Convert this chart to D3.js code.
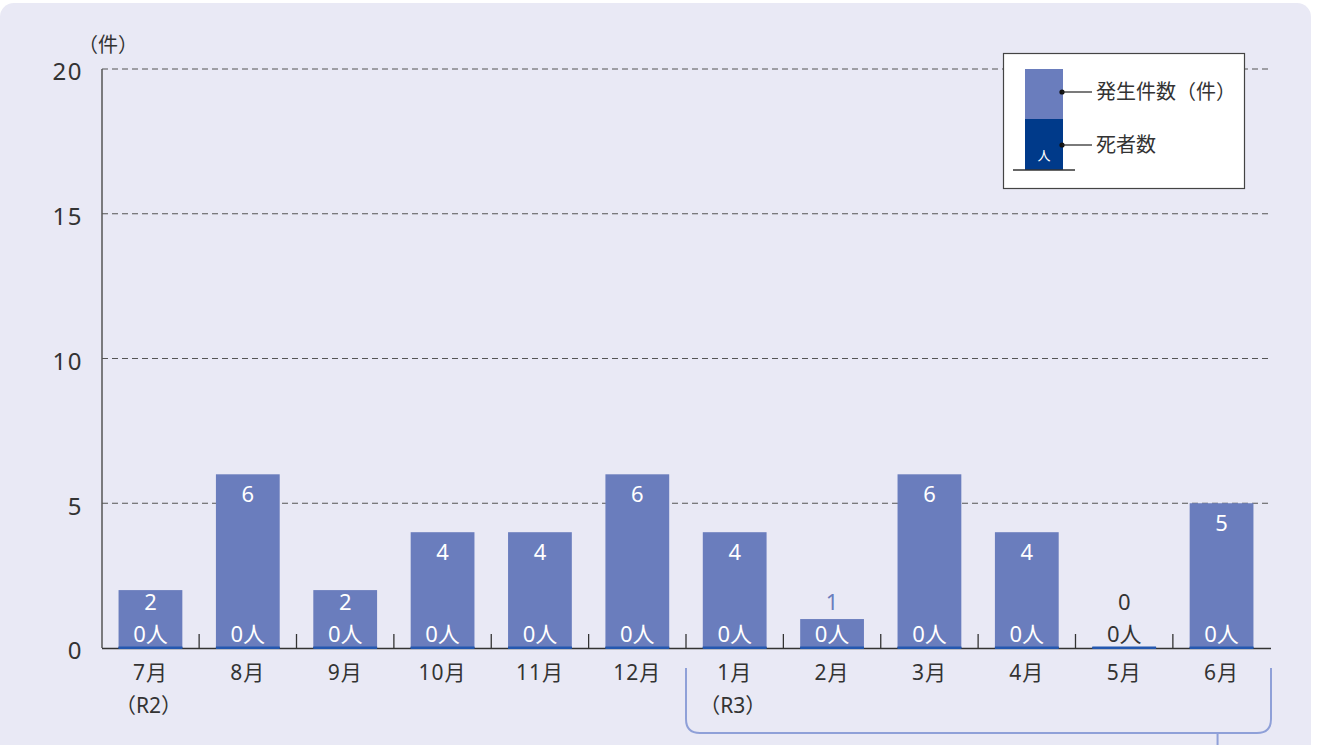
<!DOCTYPE html>
<html><head><meta charset="utf-8">
<script src="https://cdn.jsdelivr.net/npm/d3@7"></script>
<style>body{margin:0;background:#fff}svg{display:block}text{font-family:"Noto Sans","Noto Sans CJK JP",sans-serif}</style>
</head><body>
<svg id="c" width="1317" height="745"></svg>
<script>
const months = ["7月","8月","9月","10月","11月","12月","1月","2月","3月","4月","5月","6月"];
const subLabels = ["（R2）","","","","","","（R3）","","","","",""];
const incidents = [2,6,2,4,4,6,4,1,6,4,0,5];
const deaths = [0,0,0,0,0,0,0,0,0,0,0,0];
const yTicks = [0,5,10,15,20];
const legendLabels = ["発生件数（件）","死者数"];

const svg = d3.select("#c");
const lightBar = "#6A7DBD", darkBar = "#003A8A", ink = "#333", bracketCol = "#8FA0D8";
svg.append("rect").attr("x",0).attr("y",3).attr("width",1311).attr("height",780).attr("rx",14).attr("fill","#E9E9F5");

const x = d3.scaleBand().domain(months).range([102,1270]).paddingInner(0.345).paddingOuter(0.17);
const y = d3.scaleLinear().domain([0,20]).range([648,69]);

// grid
svg.append("g").selectAll("line").data(yTicks.filter(d=>d>0)).join("line")
  .attr("x1",102).attr("x2",1271).attr("y1",d=>y(d)).attr("y2",d=>y(d))
  .attr("stroke","#555").attr("stroke-width",1.2).attr("stroke-dasharray","6,4");
// y labels
svg.append("g").selectAll("text").data(yTicks).join("text")
  .attr("x",83).attr("y",d=>y(d)+3).attr("dy","0.35em").attr("text-anchor","end")
  .attr("font-size",24).attr("letter-spacing",1.5).attr("fill",ink).text(d=>d);
svg.append("text").attr("x",78).attr("y",52).attr("font-size",20).attr("fill",ink).text("（件）");

// bars
svg.append("g").selectAll("rect").data(incidents).join("rect")
  .attr("x",(d,i)=>x(months[i])).attr("width",x.bandwidth())
  .attr("y",d=>y(d)).attr("height",d=>y(0)-y(d)).attr("fill",lightBar);
svg.append("g").selectAll("rect").data(deaths).join("rect")
  .attr("x",(d,i)=>x(months[i])).attr("width",x.bandwidth())
  .attr("y",d=>y(d)-1.5).attr("height",d=>y(0)-y(d)+1.5).attr("fill","#2458B0");

// axes lines
svg.append("line").attr("x1",102).attr("x2",102).attr("y1",y(20)).attr("y2",y(0)).attr("stroke","#555").attr("stroke-width",1.5);
svg.append("line").attr("x1",102).attr("x2",1271).attr("y1",y(0)+0.5).attr("y2",y(0)+0.5).attr("stroke",ink).attr("stroke-width",1.3);
svg.append("g").selectAll("rect").data(deaths).join("rect")
  .attr("x",(d,i)=>x(months[i])).attr("width",x.bandwidth())
  .attr("y",y(0)-1).attr("height",2).attr("fill","#2458B0");
// ticks at band boundaries
const step = x.step();
svg.append("g").selectAll("line").data(months.slice(1)).join("line")
  .attr("x1",d=>x(d)-(step-x.bandwidth())/2).attr("x2",d=>x(d)-(step-x.bandwidth())/2)
  .attr("y1",y(0)-14).attr("y2",y(0)).attr("stroke",ink).attr("stroke-width",1.3);

// labels
const lab = svg.append("g");
incidents.forEach((v,i)=>{
  const cx = x(months[i]) + x.bandwidth()/2;
  const ly = Math.min(y(v)+20, y(0)-46);
  const col = v>=2 ? "#fff" : (v===1 ? lightBar : ink);
  lab.append("text").attr("x",cx).attr("y",ly).attr("dy","0.36em").attr("text-anchor","middle")
    .attr("font-size",22).attr("fill",col).text(v);
  lab.append("text").attr("x",cx).attr("y",y(0)-14).attr("dy","0.36em").attr("text-anchor","middle")
    .attr("font-size",22).attr("fill",v>0?"#fff":ink).text(deaths[i]+"人");
  lab.append("text").attr("x",cx).attr("y",y(0)+24).attr("dy","0.36em").attr("text-anchor","middle")
    .attr("font-size",21).attr("letter-spacing",1).attr("fill",ink).text(months[i]);
  if(subLabels[i]) lab.append("text").attr("x",cx-2).attr("y",y(0)+57).attr("dy","0.36em").attr("text-anchor","middle")
    .attr("font-size",21).attr("fill",ink).text(subLabels[i]);
});

// bracket
const bx0 = 686, bx1 = 1271, by0 = 668, by1 = 733, r = 14;
svg.append("path").attr("d",`M${bx0},${by0} V${by1-r} Q${bx0},${by1} ${bx0+r},${by1} H${bx1-r} Q${bx1},${by1} ${bx1},${by1-r} V${by0}`)
  .attr("fill","none").attr("stroke",bracketCol).attr("stroke-width",2);
const stemX = x(months[11]) + x.bandwidth()/2 - 4;
svg.append("line").attr("x1",stemX).attr("x2",stemX).attr("y1",by1).attr("y2",745).attr("stroke",bracketCol).attr("stroke-width",2);

// legend
const lg = svg.append("g");
lg.append("rect").attr("x",1003.5).attr("y",53.5).attr("width",241).attr("height",135).attr("fill","#fff").attr("stroke","#444").attr("stroke-width",1.2);
lg.append("rect").attr("x",1025).attr("y",69).attr("width",38).attr("height",50).attr("fill",lightBar);
lg.append("rect").attr("x",1025).attr("y",119).attr("width",38).attr("height",51).attr("fill",darkBar);
lg.append("line").attr("x1",1013).attr("x2",1075).attr("y1",170).attr("y2",170).attr("stroke",ink).attr("stroke-width",1.3);
lg.append("text").attr("x",1044).attr("y",155).attr("dy","0.36em").attr("text-anchor","middle").attr("font-size",13).attr("fill","#fff").text("人");
[92,145].forEach((yy,i)=>{
  lg.append("circle").attr("cx",1062).attr("cy",yy).attr("r",2.6).attr("fill","#111");
  lg.append("line").attr("x1",1062).attr("x2",1092).attr("y1",yy).attr("y2",yy).attr("stroke","#222").attr("stroke-width",1.2);
  lg.append("text").attr("x",1096).attr("y",yy).attr("dy","0.36em").attr("font-size",20).attr("fill",ink).text(legendLabels[i]);
});
</script>
</body></html>
